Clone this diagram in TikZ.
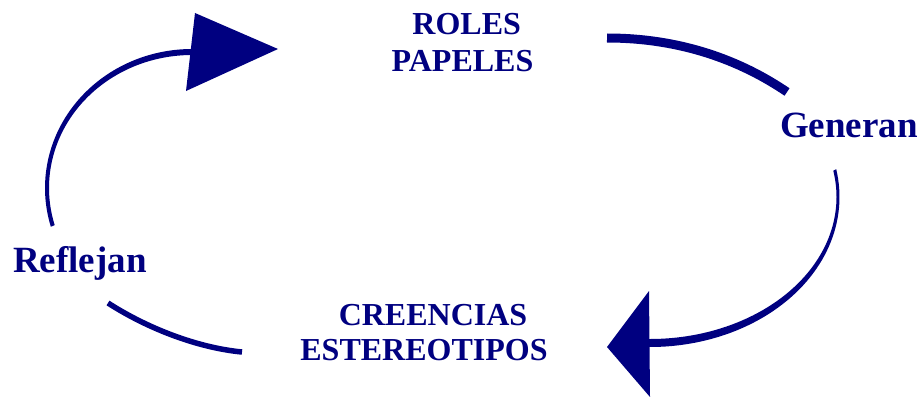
\documentclass[tikz,border=0pt]{standalone}
\usepackage{fontspec}
\setmainfont{Liberation Serif}
\usetikzlibrary{calc}
\definecolor{navy}{RGB}{0,0,128}
\tikzset{
  lbl/.style={inner sep=0pt, text=navy, font=\bfseries\fontsize{32}{36}\selectfont, anchor=base},
  verb/.style={inner sep=0pt, text=navy, font=\bfseries\fontsize{37}{40}\selectfont, anchor=base west},
  arc line/.style={draw=navy, line cap=butt},
  head/.style={fill=navy}
}
\begin{document}
\begin{tikzpicture}[x=1pt,y=-1pt]
\useasboundingbox (0,0) rectangle (920,396);
% named anchor points of the cycle
\coordinate (cTL) at (192,188);
\coordinate (cR) at (650,197);
\coordinate (trStart) at (607,38);
\coordinate (trEnd) at (787,92);
\coordinate (blStart) at (108,303);
\coordinate (blEnd) at (242,352);

% top-left arc (tapered) Reflejan -> ROLES
\fill[navy] (cTL) ++(163.8:147 and 139) arc[start angle=163.8,end angle=272,x radius=147,y radius=139]
  -- ($(cTL)+(272:143 and 133)$) arc[start angle=272,end angle=163.8,x radius=143,y radius=133] -- cycle;
\fill[head] (195,13) -- (278,49) -- (186,91) -- cycle;

% top-right arc ROLES -> Generan
\draw[arc line, line width=9pt] (trStart) .. controls (680,38) and (740,60) .. (trEnd);

% right arc (tapered) Generan -> CREENCIAS
\fill[navy] (cR) ++(-10.7:189.5 and 150) arc[start angle=-10.7,end angle=92,x radius=189.5,y radius=150]
  -- ($(cR)+(92:186.5 and 142)$) arc[start angle=92,end angle=-10.7,x radius=186.5,y radius=142] -- cycle;
\fill[head] (649,291) -- (607,347) -- (650,397) -- cycle;

% bottom-left arc CREENCIAS -> Reflejan
\draw[arc line, line width=5.5pt] (blStart) .. controls (150,330) and (200,348) .. (blEnd);

% texts
\node[lbl] (roles) at (466.7,35) {ROLES};
\node[lbl] (papeles) at (462.5,71.7) {PAPELES};
\node[lbl] (creencias) at (433,325) {CREENCIAS};
\node[lbl] (estereotipos) at (424,360.7) {ESTEREOTIPOS};
\node[verb] (reflejan) at (13,272) {Reflejan};
\node[verb] (generan) at (780,137) {Generan};
\end{tikzpicture}
\end{document}
